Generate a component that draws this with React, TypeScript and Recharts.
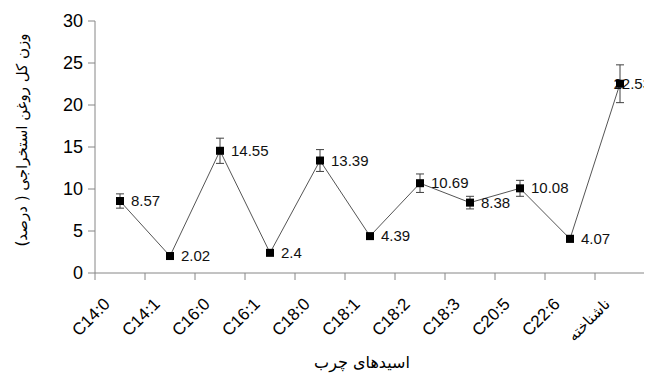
import React from 'react';
import { ComposedChart, Line, XAxis, YAxis, ErrorBar, Label } from 'recharts';

const categories = ['C14:0', 'C14:1', 'C16:0', 'C16:1', 'C18:0', 'C18:1', 'C18:2', 'C18:3', 'C20:5', 'C22:6', 'ناشناخته'];
const values = [8.57, 2.02, 14.55, 2.4, 13.39, 4.39, 10.69, 8.38, 10.08, 4.07, 22.53];
const errors = [0.85, 0.25, 1.5, 0.3, 1.3, 0.3, 1.1, 0.75, 0.95, 0.4, 2.25];
const yTicks = [0, 5, 10, 15, 20, 25, 30];
const yTitle = 'وزن کل روغن استخراجی ( درصد)';
const xTitle = 'اسیدهای چرب';

const W = 644;
const H = 370;
const AXIS = '#868686';
const ARABIC_FONT = '"DejaVu Sans", sans-serif';
const LATIN_FONT = '"Liberation Sans", Arial, sans-serif';

const data = categories.map((name, i) => ({ pos: i + 0.5, name, value: values[i], err: errors[i] }));
const xTicks: number[] = [];
for (let i = 0; i <= categories.length * 2; i++) xTicks.push(i / 2);

const XTick = (props: any) => {
  const { x, y, payload } = props;
  const v = payload.value as number;
  if (Number.isInteger(v)) {
    return <line x1={x} x2={x} y1={y} y2={y + 7} stroke={AXIS} strokeWidth={1} />;
  }
  const name = categories[Math.floor(v)];
  const ax = x - 9;
  const ay = y + 32;
  const isArabic = /[\u0600-\u06FF]/.test(name);
  return (
    <text
      x={ax}
      y={ay}
      transform={`rotate(-45, ${ax}, ${ay})`}
      textAnchor="end"
      fontSize={isArabic ? 15 : 17}
      fontFamily={isArabic ? ARABIC_FONT : LATIN_FONT}
      fill="#000"
    >
      {name}
    </text>
  );
};

const Square = (props: any) => {
  const { cx, cy } = props;
  if (cx == null || cy == null) return null;
  return <rect x={cx - 4} y={cy - 4} width={8} height={8} fill="#000" />;
};

const ValueDot = (props: any) => {
  const { cx, cy, value } = props;
  if (cx == null || cy == null) return null;
  const txt = String(value);
  const est = txt.length * 8.5;
  const overflow = cx + 11 + est > W - 1;
  return (
    <text
      x={overflow ? W - 1 : cx + 11}
      y={cy}
      dy={5}
      textAnchor={overflow ? 'end' : 'start'}
      fontSize={15}
      fontFamily={LATIN_FONT}
      fill="#111"
    >
      {txt}
    </text>
  );
};

export default function App() {
  return (
    <ComposedChart
      width={W}
      height={H}
      data={data}
      margin={{ top: 13, right: 7, bottom: 15, left: 27 }}
    >
      <XAxis
        type="number"
        dataKey="pos"
        domain={[0, categories.length]}
        ticks={xTicks}
        interval={0}
        tickSize={0}
        tickMargin={0}
        tickLine={false}
        axisLine={{ stroke: AXIS, strokeWidth: 1 }}
        height={90}
        tick={<XTick />}
      >
        <Label
          content={(p: any) => {
            const vb = p.viewBox;
            return (
              <text
                x={vb.x + vb.width / 2 - 8}
                y={vb.y + 95}
                textAnchor="middle"
                fontSize={16}
                fontFamily={ARABIC_FONT}
                fill="#000"
                direction="rtl"
              >
                {xTitle}
              </text>
            );
          }}
        />
      </XAxis>
      <YAxis
        type="number"
        domain={[0, 30]}
        ticks={yTicks}
        interval={0}
        width={60}
        tickSize={7}
        tickMargin={5}
        tickLine={{ stroke: AXIS }}
        axisLine={{ stroke: AXIS, strokeWidth: 1 }}
        tick={{ fontSize: 18, fontFamily: LATIN_FONT, fill: '#000' }}
      >
        <Label
          content={(p: any) => {
            const vb = p.viewBox;
            const cx = 14;
            const cy = vb.y + vb.height / 2 - 7;
            return (
              <text
                x={cx}
                y={cy}
                transform={`rotate(-90, ${cx}, ${cy})`}
                textAnchor="middle"
                dominantBaseline="central"
                fontSize={15}
                fontFamily={ARABIC_FONT}
                fill="#000"
                direction="rtl"
              >
                {yTitle}
              </text>
            );
          }}
        />
      </YAxis>
      <Line
        dataKey="value"
        stroke="#555"
        strokeWidth={1}
        dot={<ValueDot />}
        activeDot={false}
        isAnimationActive={false}
      >
        <ErrorBar dataKey="err" direction="y" width={4} stroke="#404040" strokeWidth={1} />
      </Line>
      <Line
        dataKey="value"
        stroke="none"
        dot={<Square />}
        activeDot={false}
        isAnimationActive={false}
      />
    </ComposedChart>
  );
}
